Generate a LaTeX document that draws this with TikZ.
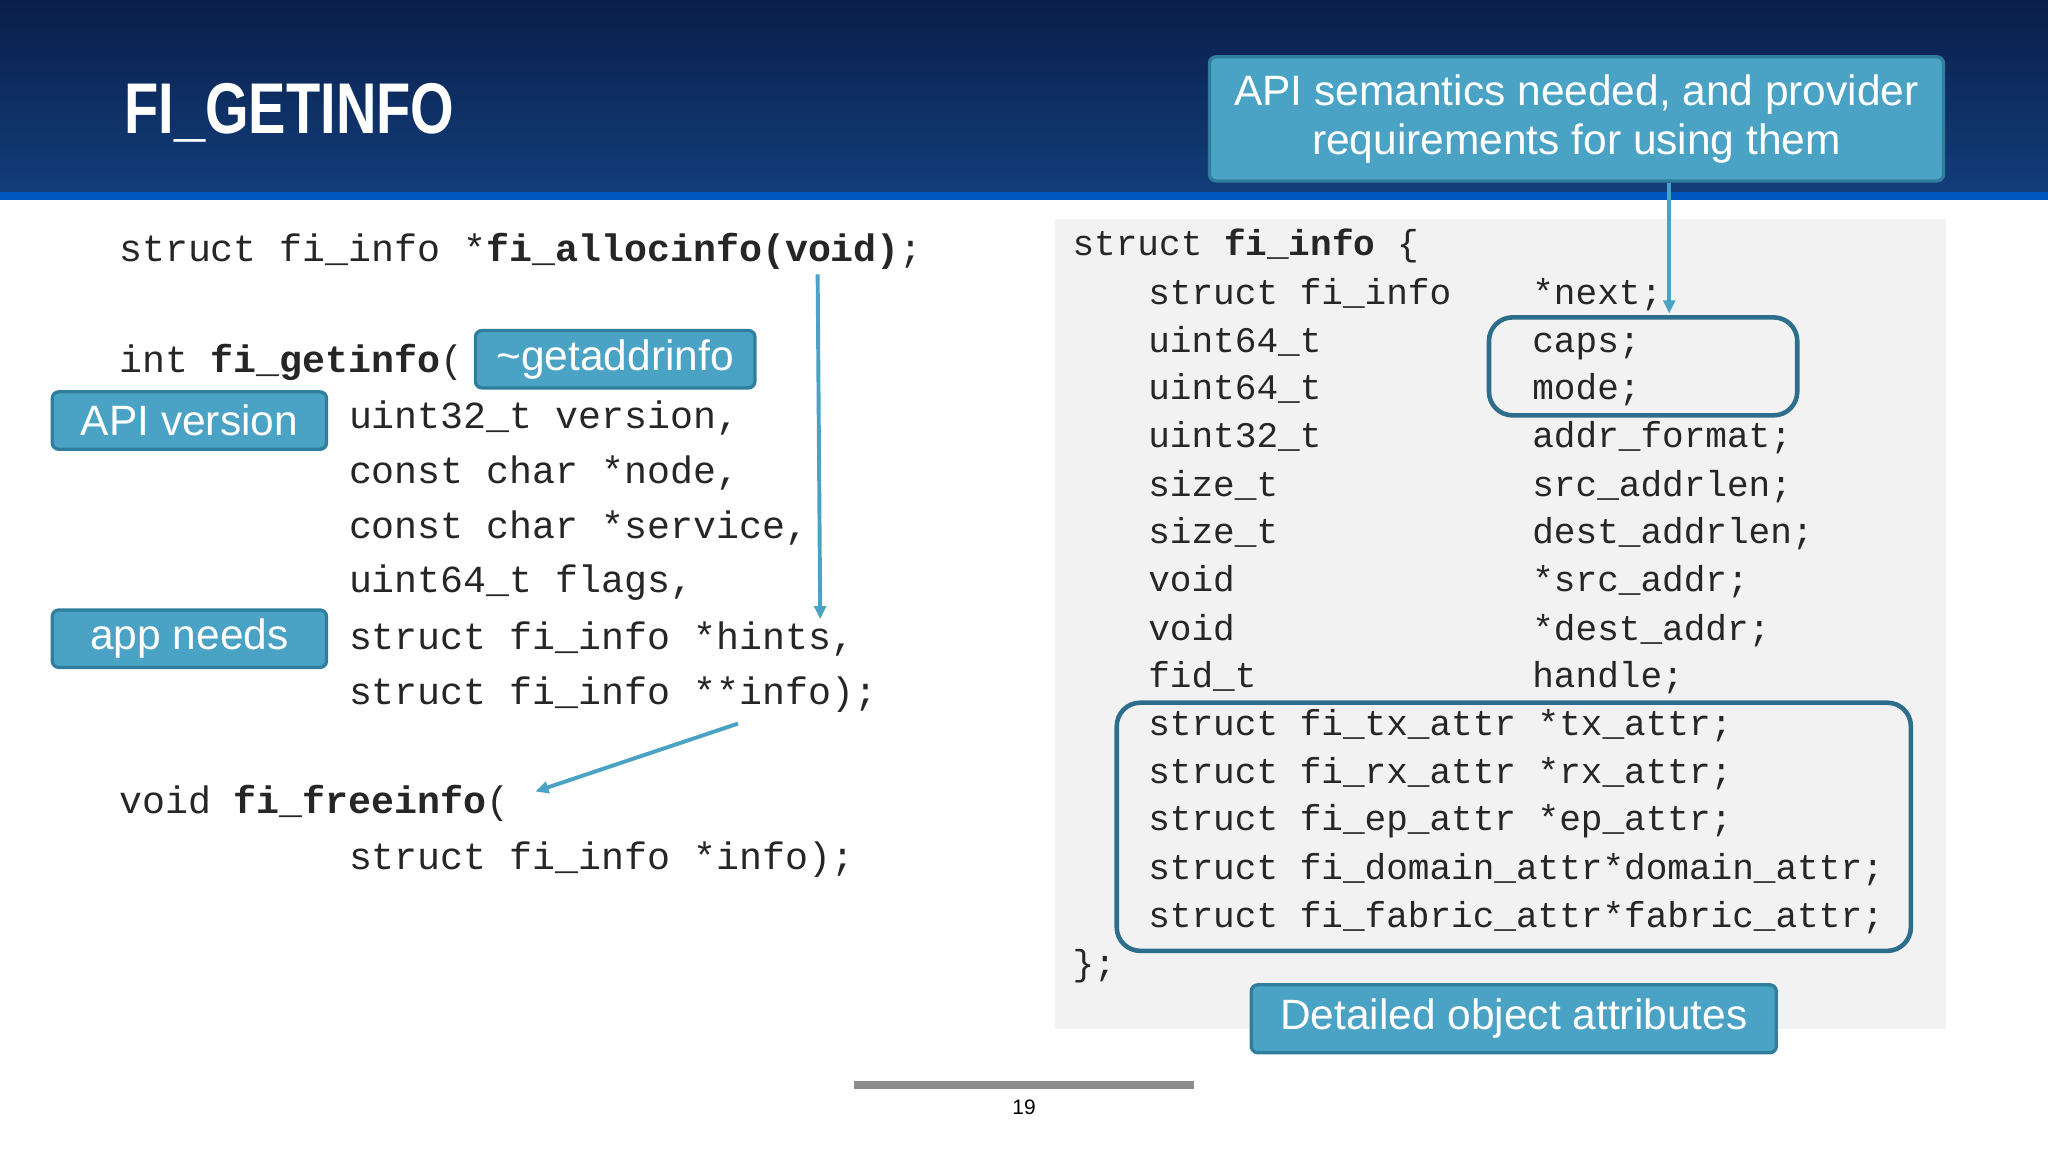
\documentclass[tikz,border=0pt]{standalone}
\usepackage{fontspec}
\setmainfont{Liberation Sans}
\setmonofont{Liberation Mono}
\usetikzlibrary{arrows.meta}
\definecolor{callfill}{HTML}{4AA3C4}
\definecolor{callbord}{HTML}{2F7E9E}
\definecolor{boxbord}{HTML}{2D6E8C}
\definecolor{arrowc}{HTML}{4AA3C4}
\definecolor{hdtop}{HTML}{0A1E4A}
\definecolor{hdbot}{HTML}{123E7A}
\tikzset{
 x=1pt,y=-1pt,
 lc/.style={anchor=base west,inner sep=0,font=\fontsize{29.3}{30}\selectfont\ttfamily,text=black!85},
 rc/.style={anchor=base west,inner sep=0,font=\fontsize{27.6}{29}\selectfont\ttfamily,text=black!85},
 callout/.style={draw=callbord,line width=2.5pt,fill=callfill,rounded corners=5pt,text=white,font=\fontsize{32.5}{38}\selectfont,align=center,inner sep=0},
 hl/.style={draw=boxbord,line width=3.5pt,rounded corners=18pt},
 arr/.style={draw=arrowc,line width=3pt,-{Triangle[length=10pt,width=9pt]}}
}
\begin{document}
\begin{tikzpicture}
\useasboundingbox (0,0) rectangle (1568,882);
\fill[white] (0,0) rectangle (1568,882);
% header
\shade[top color=hdtop, bottom color=hdbot] (0,0) rectangle (1568,148);
\fill[blue!55!cyan!75!black] (0,147) rectangle (1568,153);
\node[anchor=base west,inner sep=0,text=white,font=\fontsize{55}{60}\selectfont\bfseries,xscale=0.78,transform shape] (title) at (95,102) {FI\_GETINFO};
% gray panel
\fill[black!5] (808,168) rectangle (1490,788);
% left code
\node[lc] (l1) at (91,200) {struct fi\_info *\textbf{fi\_allocinfo(void)};};
\node[lc] (l2) at (91,285) {int \textbf{fi\_getinfo}(};
\node[lc] (l3) at (267,328) {uint32\_t version,};
\node[lc] (l4) at (267,370) {const char *node,};
\node[lc] (l5) at (267,412) {const char *service,};
\node[lc] (l6) at (267,454) {uint64\_t flags,};
\node[lc] (l7) at (267,497) {struct fi\_info *hints,};
\node[lc] (l8) at (267,539) {struct fi\_info **info);};
\node[lc] (l9) at (91,623) {void \textbf{fi\_freeinfo}(};
\node[lc] (l10) at (267,666) {struct fi\_info *info);};
% right code
\node[rc] (r0) at (821,196) {struct \textbf{fi\_info} \{};
\foreach \a/\b/\y [count=\i] in {
 struct fi\_info/*next;/233, uint64\_t/caps;/270, uint64\_t/mode;/306,
 uint32\_t/addr\_format;/343, size\_t/src\_addrlen;/380, size\_t/dest\_addrlen;/416,
 void/*src\_addr;/453, void/*dest\_addr;/490, fid\_t/handle;/526}{
 \node[rc] (ra\i) at (879,\y) {\a};
 \node[rc] (rb\i) at (1173,\y) {\b};
}
\node[rc] (s1) at (879,563) {struct fi\_tx\_attr *tx\_attr;};
\node[rc] (s2) at (879,600) {struct fi\_rx\_attr *rx\_attr;};
\node[rc] (s3) at (879,636) {struct fi\_ep\_attr *ep\_attr;};
\node[rc] (s4) at (879,673) {struct fi\_domain\_attr*domain\_attr;};
\node[rc] (s5) at (879,710) {struct fi\_fabric\_attr*fabric\_attr;};
\node[rc] (rend) at (821,747) {\};};
% highlight boxes
\draw[hl] (1140,243) rectangle (1376,318);
\coordinate (capsTop) at (1278,240);
\draw[hl] (855,538) rectangle (1463,728);
% callouts
\node[callout,minimum width=214pt,minimum height=44pt] (gai) at (471,275) {\textasciitilde getaddrinfo};
\node[callout,minimum width=210pt,minimum height=44pt] (apiv) at (145,322) {API version};
\node[callout,minimum width=210pt,minimum height=44pt] (app) at (145,489) {app needs};
\node[callout,minimum width=562pt,minimum height=95pt] (sem) at (1207,91) {API semantics needed, and provider\\requirements for using them};
\node[callout,minimum width=402pt,minimum height=52pt] (det) at (1159,780) {Detailed object attributes};
% arrows
\coordinate (a1s) at (626,210); \coordinate (a1e) at (628,474);
\draw[arr] (a1s) -- (a1e);
\draw[arr] (sem.south -| capsTop) -- (capsTop);
\coordinate (a3s) at (565,554); \coordinate (a3e) at (410,606);
\draw[arr] (a3s) -- (a3e);
% footer
\fill[black!45] (654,828) rectangle (914,834);
\node[font=\fontsize{16}{18}\selectfont,text=black] (pg) at (784,848) {19};
\end{tikzpicture}
\end{document}
